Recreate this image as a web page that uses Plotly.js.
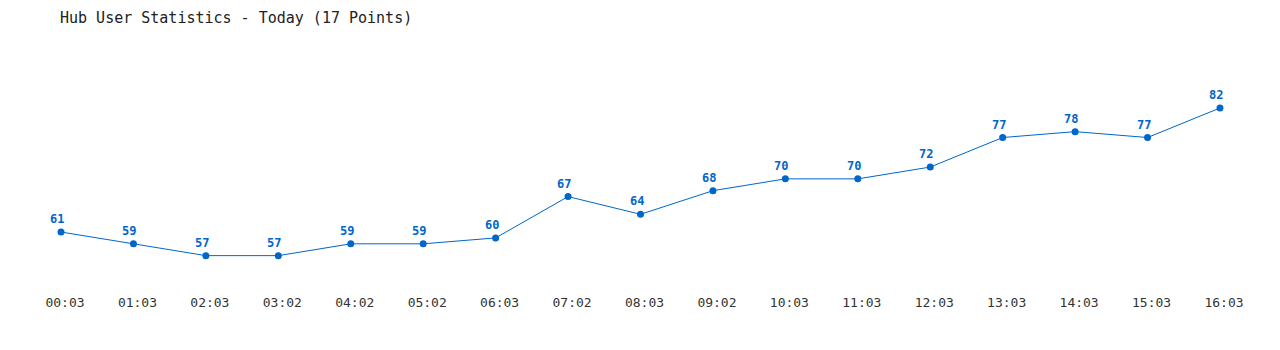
<!DOCTYPE html>
<html><head><meta charset="utf-8">
<script src="https://cdn.plot.ly/plotly-3.0.1.min.js"></script>
<style>html,body{margin:0;padding:0;background:#fff}#chart{width:1280px;height:350px}</style>
</head><body><div id="chart"></div>
<script>
const times = ["00:03","01:03","02:03","03:02","04:02","05:02","06:03","07:02","08:03","09:02","10:03","11:03","12:03","13:03","14:03","15:03","16:03"];
const users = [61,59,57,57,59,59,60,67,64,68,70,70,72,77,78,77,82];
const idx = times.map((_, i) => i);

const labels = users.map((v, i) => ({
  x: idx[i], y: v, text: String(v), showarrow: false,
  xanchor: 'center', yanchor: 'bottom', xshift: -4, yshift: 4,
  font: {family: 'DejaVu Sans Mono', size: 12, color: '#0066cc', weight: 'bold'}
}));

Plotly.newPlot('chart', [{
  x: idx, y: users, type: 'scatter', mode: 'lines+markers',
  line: {color: '#0066cc', width: 1},
  marker: {color: '#0066cc', size: 7},
  cliponaxis: false, hoverinfo: 'none'
}], {
  width: 1280, height: 350,
  paper_bgcolor: '#fff', plot_bgcolor: '#fff',
  margin: {l: 40, r: 39, t: 60, b: 60},
  showlegend: false,
  annotations: labels,
  title: {text: 'Hub User Statistics - Today (17 Points)', x: 0, xref: 'paper', xanchor: 'left', y: 1, yref: 'container', yanchor: 'top', pad: {t: 12, l: 20},
    font: {family: 'DejaVu Sans Mono', size: 15, color: '#222'}},
  xaxis: {range: [-0.29, 16.29], tickvals: idx, ticktext: times, showgrid: false, zeroline: false, showline: false, ticks: '',
    ticklabelshift: 4, ticklabelstandoff: 3,
    tickfont: {family: 'DejaVu Sans Mono', size: 13, color: '#333'}, fixedrange: true},
  yaxis: {range: [51.18, 90.13], visible: false, fixedrange: true}
}, {displayModeBar: false, staticPlot: true});
</script></body></html>
